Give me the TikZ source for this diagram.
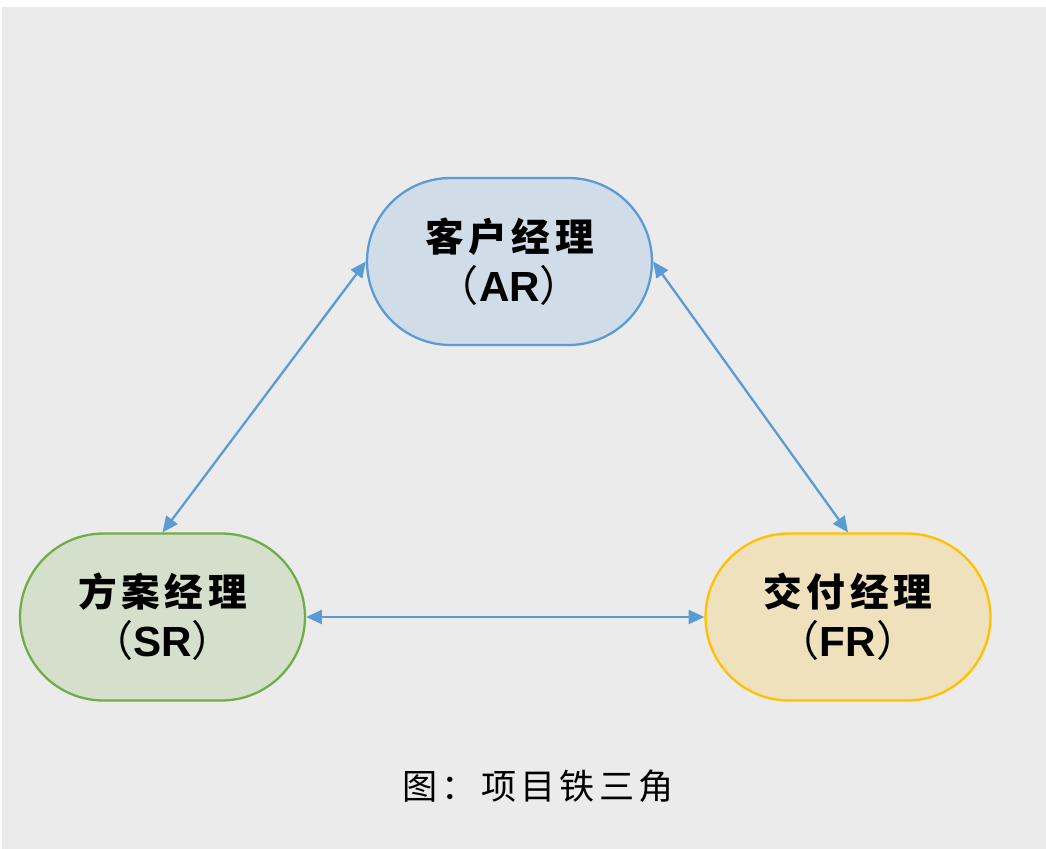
\documentclass[tikz,border=0pt]{standalone}
\usepackage{fontspec}
\setmainfont{Liberation Sans}
\newfontfamily\cjk{Noto Sans CJK SC}
\newfontfamily\cjksp{Noto Sans CJK SC}[LetterSpace=12]
\usetikzlibrary{shapes.misc,arrows.meta}
\definecolor{bg}{HTML}{EBEBEB}
\definecolor{arline}{HTML}{5B9BD5}
\definecolor{arfill}{HTML}{D0DCE8}
\definecolor{srline}{HTML}{70AD47}
\definecolor{srfill}{HTML}{D5E0CC}
\definecolor{frline}{HTML}{FFC000}
\definecolor{frfill}{HTML}{F0E1BD}
\tikzset{
  role/.style={rounded rectangle, rounded rectangle arc length=180, minimum width=5.7cm, minimum height=3.34cm, line width=1.3pt, inner sep=0pt, align=center, text=black, font=\fontsize{22}{28.5}\selectfont},
  link/.style={arline, line width=1.3pt, {Triangle[length=9pt,width=8pt]}-{Triangle[length=9pt,width=8pt]}},
}
\begin{document}
\begin{tikzpicture}[x=0.02cm,y=-0.02cm]
\useasboundingbox (0,0) rectangle (1046,849);
\fill[white] (0,0) rectangle (1046,849);
\fill[bg] (2,7) rectangle (1046,849);
\node[role, draw=arline, fill=arfill] (ar) at (509.5,261.5)
  {{\cjksp\bfseries 客户经理}\\
   {\fontsize{24}{28.5}\selectfont\cjk （\bfseries\rmfamily AR\cjk\mdseries ）}};
\node[role, draw=srline, fill=srfill] (sr) at (162.5,617)
  {{\cjksp\bfseries 方案经理}\\
   {\fontsize{24}{28.5}\selectfont\cjk （\bfseries\rmfamily SR\cjk\mdseries ）}};
\node[role, draw=frline, fill=frfill] (fr) at (848,617)
  {{\cjksp\bfseries 交付经理}\\
   {\fontsize{24}{28.5}\selectfont\cjk （\bfseries\rmfamily FR\cjk\mdseries ）}};
\draw[link] (ar.west) -- (sr.north);
\draw[link] (ar.east) -- (fr.north);
\draw[link] (sr.east) -- (fr.west);
\node (cap) at (538,786) {\cjksp\fontsize{20}{24}\selectfont 图：项目铁三角};
\end{tikzpicture}
\end{document}
